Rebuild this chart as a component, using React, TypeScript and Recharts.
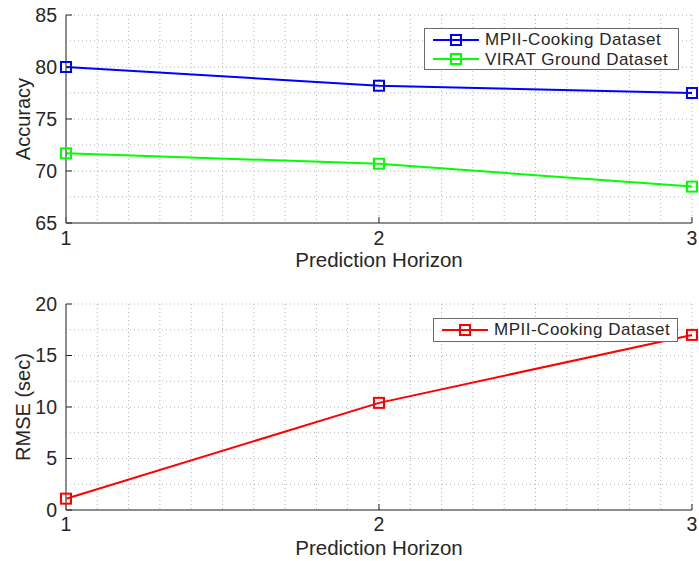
import React from 'react';
import { LineChart, Line, XAxis, YAxis, CartesianGrid } from 'recharts';

const horizons = [1, 2, 3];
const mpiiAccuracy = [80.0, 78.2, 77.5];
const viratAccuracy = [71.7, 70.7, 68.5];
const mpiiRmse = [1.1, 10.4, 17.0];

const xTicks = [1, 2, 3];
const accTicks = [65, 70, 75, 80, 85];
const rmseTicks = [0, 5, 10, 15, 20];

// minor dotted grid
const gridX = [1, 1.1, 1.2, 1.3, 1.4, 1.5, 1.6, 1.7, 1.8, 1.9, 2, 2.1, 2.2, 2.3, 2.4, 2.5, 2.6, 2.7, 2.8, 2.9, 3];
const gridAcc = [65, 67.5, 70, 72.5, 75, 77.5, 80, 82.5, 85];
const gridRmse = [0, 2.5, 5, 7.5, 10, 12.5, 15, 17.5, 20];

const accData = horizons.map((h, i) => ({ h, mpii: mpiiAccuracy[i], virat: viratAccuracy[i] }));
const rmseData = horizons.map((h, i) => ({ h, rmse: mpiiRmse[i] }));

const FONT = '"Liberation Sans", Arial, Helvetica, sans-serif';
const TEXT = '#262626';
const FRAME = '#6b6b6b';

const tickStyle = { fill: TEXT, fontSize: 19.5, fontFamily: FONT };
const blank = () => '';

function squareDot(color: string) {
  return (props: any) => {
    const { cx, cy, index } = props;
    return (
      <rect key={`d-${index}`} x={cx - 5} y={cy - 5} width={10} height={10}
        fill="none" stroke={color} strokeWidth={2} />
    );
  };
}

function LegendBox({ items, style }: { items: { label: string; color: string }[]; style: React.CSSProperties }) {
  return (
    <div style={{
      position: 'absolute', border: `1.5px solid ${FRAME}`, background: '#fff', boxSizing: 'border-box',
      fontFamily: FONT, fontSize: 17, color: TEXT, ...style
    }}>
      {items.map((it) => (
        <div key={it.label} style={{ display: 'flex', alignItems: 'center', height: 19.5, lineHeight: '19.5px', whiteSpace: 'nowrap' }}>
          <svg width={48} height={14} style={{ marginRight: 5, flex: 'none' }}>
            <line x1={1} y1={7} x2={47} y2={7} stroke={it.color} strokeWidth={2} />
            <rect x={19} y={2} width={10} height={10} fill="none" stroke={it.color} strokeWidth={2} />
          </svg>
          <span style={{ letterSpacing: 0.5 }}>{it.label}</span>
        </div>
      ))}
    </div>
  );
}

export default function App() {
  const axisLine = { stroke: FRAME, strokeWidth: 1.5 };
  const tickLine = { stroke: '#222', strokeWidth: 1 };
  const xTitle = { fill: TEXT, fontSize: 20.5, fontFamily: FONT };
  const yTitle = { fill: TEXT, fontSize: 20, fontFamily: FONT, textAnchor: 'middle' as const };

  return (
    <div style={{ position: 'absolute', left: 0, top: 0, width: 699, height: 561, background: '#fff', fontFamily: FONT }}>
      <LineChart width={699} height={280} data={accData} margin={{ top: 15, right: 7, bottom: 0, left: 6 }}>
        <XAxis xAxisId="gx" dataKey="h" type="number" domain={[1, 3]} ticks={gridX} hide />
        <YAxis yAxisId="gy" type="number" domain={[65, 85]} ticks={gridAcc} hide allowDataOverflow />
        <CartesianGrid xAxisId="gx" yAxisId="gy" stroke="#b5b5b5" strokeDasharray="1 3" />
        <XAxis dataKey="h" type="number" domain={[1, 3]} ticks={xTicks} height={57}
          axisLine={axisLine} tickLine={tickLine} tickSize={-6} tickMargin={14} tick={tickStyle}
          label={{ value: 'Prediction Horizon', position: 'insideBottom', offset: 13, style: xTitle }} />
        <XAxis xAxisId="top" orientation="top" dataKey="h" type="number" domain={[1, 3]} ticks={xTicks} height={0}
          axisLine={axisLine} tickLine={tickLine} tickSize={-6} tickFormatter={blank} />
        <YAxis type="number" domain={[65, 85]} ticks={accTicks} width={60} allowDataOverflow
          axisLine={axisLine} tickLine={tickLine} tickSize={-6} tickMargin={15} tick={tickStyle}
          label={{ value: 'Accuracy', angle: -90, position: 'insideLeft', offset: 17, style: yTitle }} />
        <YAxis yAxisId="right" orientation="right" type="number" domain={[65, 85]} ticks={accTicks} width={0} allowDataOverflow
          axisLine={axisLine} tickLine={tickLine} tickSize={-6} tickFormatter={blank} />
        <Line dataKey="mpii" stroke="#0000ff" strokeWidth={2} dot={squareDot('#0000ff')} isAnimationActive={false} />
        <Line dataKey="virat" stroke="#00ff00" strokeWidth={2} dot={squareDot('#00ff00')} isAnimationActive={false} />
      </LineChart>

      <LineChart width={699} height={281} data={rmseData} margin={{ top: 24, right: 7, bottom: 0, left: 6 }}>
        <XAxis xAxisId="gx" dataKey="h" type="number" domain={[1, 3]} ticks={gridX} hide />
        <YAxis yAxisId="gy" type="number" domain={[0, 20]} ticks={gridRmse} hide allowDataOverflow />
        <CartesianGrid xAxisId="gx" yAxisId="gy" stroke="#b5b5b5" strokeDasharray="1 3" />
        <XAxis dataKey="h" type="number" domain={[1, 3]} ticks={xTicks} height={51}
          axisLine={axisLine} tickLine={tickLine} tickSize={-6} tickMargin={13} tick={tickStyle}
          label={{ value: 'Prediction Horizon', position: 'insideBottom', offset: 6, style: xTitle }} />
        <XAxis xAxisId="top" orientation="top" dataKey="h" type="number" domain={[1, 3]} ticks={xTicks} height={0}
          axisLine={axisLine} tickLine={tickLine} tickSize={-6} tickFormatter={blank} />
        <YAxis type="number" domain={[0, 20]} ticks={rmseTicks} width={60} allowDataOverflow
          axisLine={axisLine} tickLine={tickLine} tickSize={-6} tickMargin={15} tick={tickStyle}
          label={{ value: 'RMSE (sec)', angle: -90, position: 'insideLeft', offset: 17, style: yTitle }} />
        <YAxis yAxisId="right" orientation="right" type="number" domain={[0, 20]} ticks={rmseTicks} width={0} allowDataOverflow
          axisLine={axisLine} tickLine={tickLine} tickSize={-6} tickFormatter={blank} />
        <Line dataKey="rmse" stroke="#ff0000" strokeWidth={2} dot={squareDot('#ff0000')} isAnimationActive={false} />
      </LineChart>

      <LegendBox style={{ left: 424, top: 28, width: 255, height: 42, padding: '1px 0 0 7px' }}
        items={[{ label: 'MPII-Cooking Dataset', color: '#0000ff' }, { label: 'VIRAT Ground Dataset', color: '#00ff00' }]} />
      <LegendBox style={{ left: 433, top: 318, width: 245, height: 24, padding: '1px 0 0 7px' }}
        items={[{ label: 'MPII-Cooking Dataset', color: '#ff0000' }]} />
    </div>
  );
}
